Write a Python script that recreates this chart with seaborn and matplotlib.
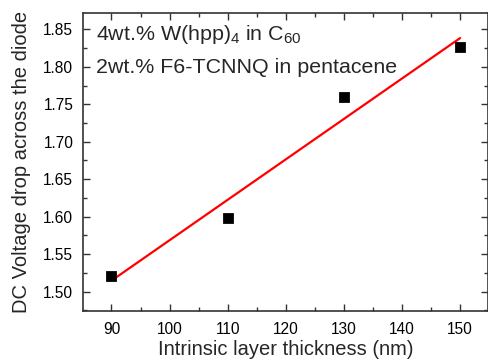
import numpy as np
import pandas as pd
import matplotlib
matplotlib.use("Agg")
import matplotlib.pyplot as plt
import seaborn as sns
from matplotlib.ticker import MultipleLocator

thickness = [90, 110, 130, 150]
voltage = [1.521, 1.598, 1.760, 1.827]
label_line1 = r"4wt.% W(hpp)$_4$ in C$_{60}$"
label_line2 = "2wt.% F6-TCNNQ in pentacene"
xlabel = "Intrinsic layer thickness (nm)"
ylabel = "DC Voltage drop across the diode"

sns.set_style("ticks")
plt.rcParams['font.family'] = ['Liberation Sans', 'DejaVu Sans']
plt.rcParams['mathtext.fontset'] = 'custom'
plt.rcParams['mathtext.rm'] = 'Liberation Sans'
plt.rcParams['mathtext.it'] = 'Liberation Sans'

df = pd.DataFrame({"x": thickness, "y": voltage})

fig = plt.figure(figsize=(4.89, 3.63), dpi=100)
ax = fig.add_axes([0.1697, 0.1433, 0.8283, 0.8209])

sns.regplot(data=df, x="x", y="y", scatter=False, ci=None, color="#ff0000",
            line_kws={"linewidth": 1.6}, ax=ax)
sns.scatterplot(data=df, x="x", y="y", marker="s", s=50, color="black",
                edgecolor="black", ax=ax, zorder=3)

ax.set_xlim(85.1, 154.8)
ax.set_ylim(1.474, 1.872)
ax.xaxis.set_major_locator(MultipleLocator(10))
ax.xaxis.set_minor_locator(MultipleLocator(5))
ax.yaxis.set_major_locator(MultipleLocator(0.05))
ax.yaxis.set_minor_locator(MultipleLocator(0.025))
ax.yaxis.set_major_formatter(matplotlib.ticker.FormatStrFormatter('%.2f'))
ax.tick_params(which='both', direction='in', top=True, right=True, colors='#333333',
               labelcolor='black', labelsize=11.2)
ax.tick_params(which='major', length=5, width=1)
ax.tick_params(which='minor', length=3, width=1)
ax.tick_params(axis='x', which='both', pad=8)
ax.tick_params(axis='y', which='both', pad=7)
for s in ax.spines.values():
    s.set_color('#333333')
    s.set_linewidth(1.2)

ax.set_xlabel(xlabel, fontsize=14.5, labelpad=2)
ax.set_ylabel(ylabel, fontsize=14.5, labelpad=9)

ax.text(0.033, 0.91, label_line1, transform=ax.transAxes, fontsize=15.4, va='baseline')
ax.text(0.033, 0.80, label_line2, transform=ax.transAxes, fontsize=15.4, va='baseline')

fig.savefig("out.png", dpi=100)
